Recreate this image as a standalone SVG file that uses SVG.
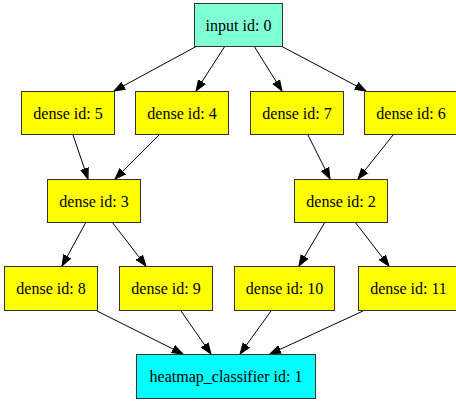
<svg xmlns="http://www.w3.org/2000/svg" width="456" height="401" viewBox="0 0 456 401">
  <style>
    .box { stroke: #333333; stroke-width: 1; }
    .input { fill: #7fffd4; }
    .dense { fill: #ffff00; }
    .out { fill: #00ffff; }
    text { font-family: "Liberation Serif", "Times New Roman", serif; font-size: 16px; fill: #000; text-anchor: middle; dominant-baseline: central; }
    .edge { stroke: #000; stroke-width: 1; fill: none; marker-end: url(#arrow); }
  </style>
  <defs>
    <marker id="arrow" markerUnits="userSpaceOnUse" markerWidth="12" markerHeight="10" viewBox="0 -5 12 10" refX="11" refY="0" orient="auto">
      <path d="M0,-4 L11,0 L0,4 z" fill="#000" stroke="#000" stroke-width="1"/>
    </marker>
  </defs>
  <rect width="456" height="401" fill="#ffffff"/>

  <g id="edges">
    <line class="edge" x1="197" y1="46" x2="114" y2="91"/>
    <line class="edge" x1="225" y1="46" x2="196" y2="91"/>
    <line class="edge" x1="254" y1="46" x2="282" y2="91"/>
    <line class="edge" x1="281" y1="46" x2="366" y2="91"/>
    <line class="edge" x1="73" y1="135" x2="88" y2="179"/>
    <line class="edge" x1="159" y1="135" x2="115" y2="179"/>
    <line class="edge" x1="308" y1="135" x2="330" y2="179"/>
    <line class="edge" x1="393" y1="135" x2="358" y2="179"/>
    <line class="edge" x1="86" y1="222" x2="62" y2="266"/>
    <line class="edge" x1="112" y1="222" x2="146" y2="266"/>
    <line class="edge" x1="325" y1="222" x2="299" y2="266"/>
    <line class="edge" x1="355" y1="222" x2="389" y2="266"/>
    <line class="edge" x1="97" y1="311" x2="183" y2="354"/>
    <line class="edge" x1="181" y1="311" x2="211" y2="354"/>
    <line class="edge" x1="271" y1="311" x2="240" y2="354"/>
    <line class="edge" x1="363" y1="311" x2="270" y2="354"/>
  </g>

  <g id="node0">
    <rect class="box input" x="194.5" y="3.5" width="88" height="43"/>
    <text x="238.5" y="25">input id: 0</text>
  </g>
  <g id="node5">
    <rect class="box dense" x="21.5" y="91.5" width="93" height="43"/>
    <text x="68" y="113">dense id: 5</text>
  </g>
  <g id="node4">
    <rect class="box dense" x="135.5" y="91.5" width="93" height="43"/>
    <text x="182" y="113">dense id: 4</text>
  </g>
  <g id="node7">
    <rect class="box dense" x="250.5" y="91.5" width="93" height="43"/>
    <text x="297" y="113">dense id: 7</text>
  </g>
  <g id="node6">
    <rect class="box dense" x="364.5" y="91.5" width="93" height="43"/>
    <text x="411" y="113">dense id: 6</text>
  </g>
  <g id="node3">
    <rect class="box dense" x="47.5" y="179.5" width="93" height="43"/>
    <text x="94" y="201">dense id: 3</text>
  </g>
  <g id="node2">
    <rect class="box dense" x="294.5" y="179.5" width="93" height="43"/>
    <text x="341" y="201">dense id: 2</text>
  </g>
  <g id="node8">
    <rect class="box dense" x="4.5" y="266.5" width="93" height="44"/>
    <text x="51" y="288.5">dense id: 8</text>
  </g>
  <g id="node9">
    <rect class="box dense" x="119.5" y="266.5" width="93" height="44"/>
    <text x="166" y="288.5">dense id: 9</text>
  </g>
  <g id="node10">
    <rect class="box dense" x="234.5" y="266.5" width="100" height="44"/>
    <text x="284.5" y="288.5">dense id: 10</text>
  </g>
  <g id="node11">
    <rect class="box dense" x="358.5" y="266.5" width="100" height="44"/>
    <text x="408.5" y="288.5">dense id: 11</text>
  </g>
  <g id="node1">
    <rect class="box out" x="136.5" y="354.5" width="179" height="44"/>
    <text x="226" y="376.5">heatmap_classifier id: 1</text>
  </g>
</svg>
